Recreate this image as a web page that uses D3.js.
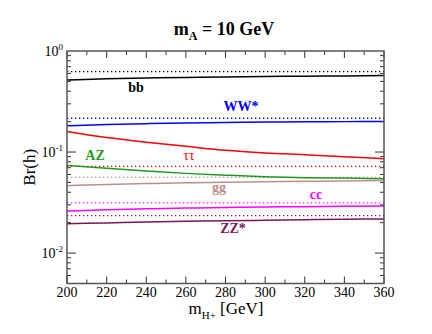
<!DOCTYPE html>
<html>
<head>
<meta charset="utf-8">
<script src="https://cdn.jsdelivr.net/npm/d3@7"></script>
<style>
  body { margin: 0; background: #fff; }
</style>
</head>
<body>
<div id="chart"></div>
<script>
var masses = [200, 220, 240, 260, 280, 300, 320, 340, 360];

// solid lines (mA = 10 GeV)
var bb   = [0.517, 0.530, 0.540, 0.548, 0.554, 0.559, 0.563, 0.567, 0.571];
var ww   = [0.182, 0.187, 0.191, 0.194, 0.196, 0.198, 0.199, 0.200, 0.201];
var tautau = [0.160, 0.139, 0.125, 0.114, 0.104, 0.098, 0.094, 0.090, 0.086];
var az   = [0.0738, 0.069, 0.065, 0.0615, 0.059, 0.057, 0.0558, 0.0552, 0.0545];
var gg   = [0.0465, 0.0478, 0.0488, 0.0496, 0.0502, 0.0508, 0.0513, 0.0518, 0.0522];
var cc   = [0.0261, 0.0268, 0.0274, 0.0279, 0.0283, 0.0286, 0.0288, 0.0290, 0.0292];
var zz   = [0.0195, 0.0199, 0.0203, 0.0206, 0.0209, 0.0211, 0.0214, 0.0216, 0.0218];

// dotted reference levels
var refNames  = ["bb", "WW*", "tautau", "gg", "cc", "ZZ*"];
var refValues = [0.625, 0.216, 0.0721, 0.0562, 0.0314, 0.0235];

var xTicks = [200, 220, 240, 260, 280, 300, 320, 340, 360];
var yTicks = [1, 0.1, 0.01];

var series = [
  { name: "bb", vals: bb, color: "#000000" },
  { name: "WW*", vals: ww, color: "#0000ff" },
  { name: "tautau", vals: tautau, color: "#ff0000" },
  { name: "AZ", vals: az, color: "#1c9a1c" },
  { name: "gg", vals: gg, color: "#bc8f8f" },
  { name: "cc", vals: cc, color: "#ff00ff" },
  { name: "ZZ*", vals: zz, color: "#7a1a5a" }
];
var colorOf = {};
series.forEach(s => colorOf[s.name] = s.color);

var labels = [
  { text: "bb", name: "bb", x: 136, y: 92, bold: true },
  { text: "WW*", name: "WW*", x: 241, y: 111, bold: true },
  { text: "AZ", name: "AZ", x: 95, y: 160, bold: true },
  { text: "ττ", name: "tautau", x: 189, y: 160, bold: false },
  { text: "gg", name: "gg", x: 219, y: 192, bold: true },
  { text: "cc", name: "cc", x: 316, y: 199, bold: true },
  { text: "ZZ*", name: "ZZ*", x: 233, y: 233, bold: true }
];

var FONT = "Liberation Serif";
var W = 432, H = 334;
var pLeft = 67, pRight = 384, pTop = 51, pBottom = 283.5;

var svg = d3.select("#chart").append("svg")
  .attr("width", W).attr("height", H)
  .style("font-family", FONT);

var x = d3.scaleLinear().domain([200, 360]).range([pLeft, pRight]);
var y = d3.scaleLog().domain([0.005, 1]).range([pBottom, pTop]);

var line = d3.line()
  .x((d, i) => x(masses[i]))
  .y(d => y(d))
  .curve(d3.curveMonotoneX);

// dotted lines
refValues.forEach((v, i) => {
  svg.append("line")
    .attr("x1", pLeft).attr("x2", pRight)
    .attr("y1", y(v)).attr("y2", y(v))
    .attr("stroke", colorOf[refNames[i]])
    .attr("stroke-width", 1.3)
    .attr("stroke-dasharray", "1.3 2.7");
});

// solid lines
series.forEach(s => {
  svg.append("path")
    .datum(s.vals)
    .attr("d", line)
    .attr("fill", "none")
    .attr("stroke", s.color)
    .attr("stroke-width", 1.5);
});

// ticks
var tk = svg.append("g").attr("stroke", "#333").attr("stroke-width", 1);
d3.range(200, 361, 10).forEach(v => {
  var len = v % 20 === 0 ? 7 : 4;
  tk.append("line").attr("x1", x(v)).attr("x2", x(v)).attr("y1", pBottom).attr("y2", pBottom - len);
  tk.append("line").attr("x1", x(v)).attr("x2", x(v)).attr("y1", pTop).attr("y2", pTop + len);
});
[0.001, 0.01, 0.1].forEach(dec => {
  for (var m = 1; m < 10; m++) {
    var v = dec * m;
    if (v < 0.005 || v > 1) continue;
    var len = m === 1 ? 9 : 4;
    tk.append("line").attr("x1", pLeft).attr("x2", pLeft + len).attr("y1", y(v)).attr("y2", y(v));
    tk.append("line").attr("x1", pRight).attr("x2", pRight - len).attr("y1", y(v)).attr("y2", y(v));
  }
});

// frame
svg.append("rect")
  .attr("x", pLeft).attr("y", pTop)
  .attr("width", pRight - pLeft).attr("height", pBottom - pTop)
  .attr("fill", "none").attr("stroke", "#555").attr("stroke-width", 1.5);

// x tick labels
xTicks.forEach(v => {
  svg.append("text")
    .attr("x", x(v)).attr("y", pBottom + 13.5)
    .attr("text-anchor", "middle")
    .attr("font-size", 14)
    .text(v);
});

// y tick labels
yTicks.forEach(v => {
  var t = svg.append("text")
    .attr("x", pLeft - 4).attr("y", y(v) + 5)
    .attr("text-anchor", "end")
    .attr("font-size", 14);
  t.append("tspan").text("10");
  t.append("tspan").attr("dy", -6).attr("font-size", 9).text(Math.round(Math.log10(v)));
});

// series labels
labels.forEach(l => {
  svg.append("text")
    .attr("x", l.x).attr("y", l.y)
    .attr("text-anchor", "middle")
    .attr("font-size", 14)
    .attr("font-weight", l.bold ? "bold" : "normal")
    .attr("fill", colorOf[l.name])
    .text(l.text);
});

// title
var title = svg.append("text")
  .attr("x", 224).attr("y", 35)
  .attr("text-anchor", "middle")
  .attr("font-size", 18)
  .attr("font-weight", "bold");
title.append("tspan").text("m");
title.append("tspan").attr("dy", 5).attr("font-size", 12).text("A");
title.append("tspan").attr("dy", -5).text(" = 10 GeV");

// axis titles
var xl = svg.append("text")
  .attr("x", 226).attr("y", 314)
  .attr("text-anchor", "middle")
  .attr("font-size", 17);
xl.append("tspan").text("m");
xl.append("tspan").attr("dy", 5).attr("font-size", 11).text("H+");
xl.append("tspan").attr("dy", -5).text(" [GeV]");

svg.append("text")
  .attr("transform", "translate(35," + ((pTop + pBottom) / 2) + ") rotate(-90)")
  .attr("text-anchor", "middle")
  .attr("font-size", 17)
  .text("Br(h)");
</script>
</body>
</html>
